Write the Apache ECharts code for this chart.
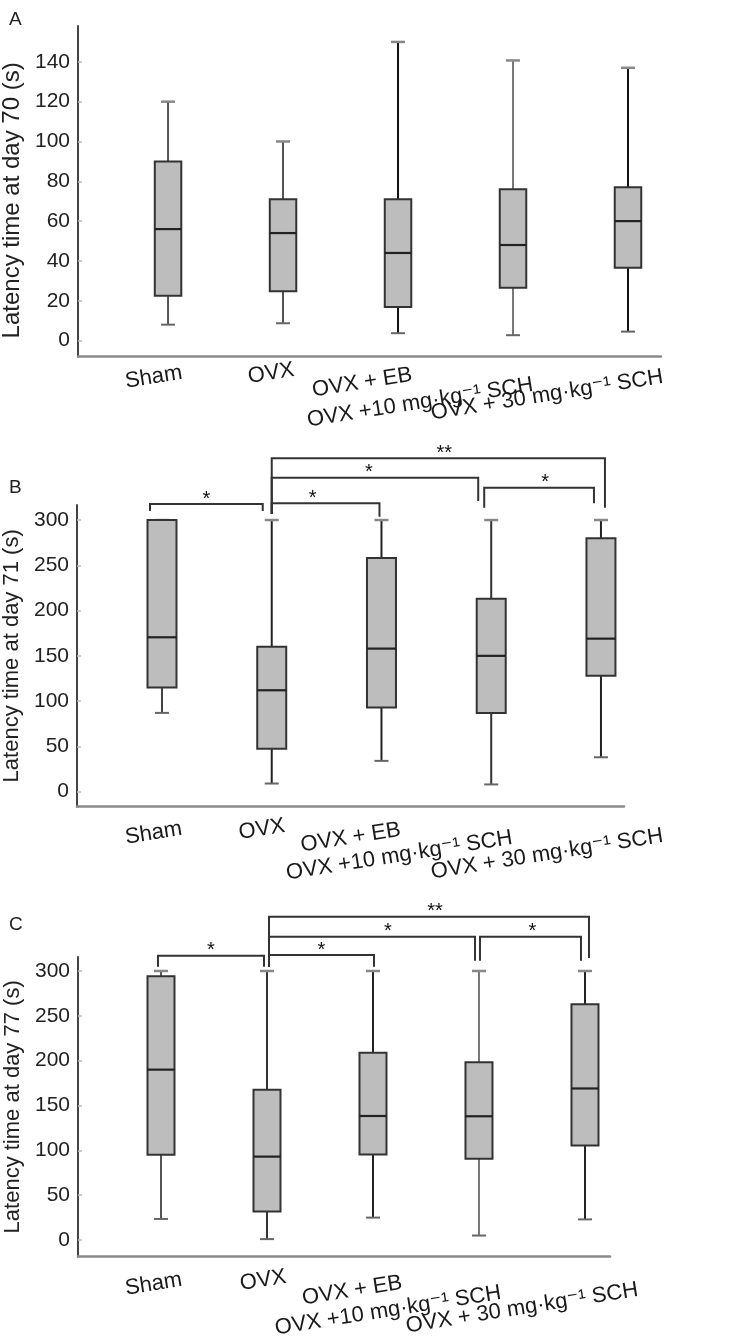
<!DOCTYPE html>
<html>
<head>
<meta charset="utf-8">
<script src="https://cdn.jsdelivr.net/npm/echarts@6/dist/echarts.min.js"></script>
<style>html,body{margin:0;padding:0;background:#fff}#c{width:730px;height:1344px}</style>
</head>
<body>
<div id="c"></div>
<script>
// ---------------- data ----------------
const categories = ['Sham', 'OVX', 'OVX + EB', 'OVX +10 mg\u00b7kg\u207b\u00b9 SCH', 'OVX + 30 mg\u00b7kg\u207b\u00b9 SCH'];
// each box: [min, Q1, median, Q3, max]
const day70 = [[8, 22.5, 56, 90, 120], [8.7, 24.8, 54, 71, 100], [3.7, 16.8, 44, 71, 150], [2.7, 26.5, 48, 76, 140.7], [4.5, 36.6, 60, 77, 137]];
const day71 = [[87, 115, 170.5, 300, 300], [9, 47.5, 112, 160, 300], [34, 93, 158, 258, 300], [8, 87, 150, 213, 300], [38, 128, 169, 280, 300]];
const day77 = [[23.5, 95, 190, 294, 300], [1, 31.7, 93, 167.7, 300], [25, 95.4, 138.3, 208.7, 300], [5, 90.6, 138, 198.3, 300], [23, 105.5, 169, 263, 300]];
const ticksA = [0, 20, 40, 60, 80, 100, 120, 140];
const ticksBC = [0, 50, 100, 150, 200, 250, 300];
// significance brackets: [groupA, groupB, barLevel, dropEndA, dropEndB, mark]
const sigB = [[0, 1, 317.7, 310, 310, '*'], [1, 2, 318.4, 306.6, 303.6, '*'], [1, 3, 346.7, 306.6, 321, '*'], [3, 4, 335.7, 313.5, 318.4, '*'], [1, 4, 368.1, 306.6, 313.5, '**']];
const sigC = [[0, 1, 317, 304.8, 304.8, '*'], [1, 2, 317.8, 304.8, 304.8, '*'], [1, 3, 338.2, 304.8, 311.5, '*'], [3, 4, 338.2, 311.5, 311.5, '*'], [1, 4, 360.5, 304.8, 314.5, '**']];

// ---------------- layout / style ----------------
const FONT = '"Liberation Sans", Arial, "DejaVu Sans", sans-serif';
const panels = [
  { key: 'A', letter: [4, 5], data: day70, ticks: ticksA, sig: [], sigNudge: [],
    title: 'Latency time at day 70 (s)', nameSize: 24, nameGap: 52, namePad: [0, 18, 0, 0],
    grid: [78, 26, 583, 330.7], x: [-0.783, 4.287], y: [-8.1, 158],
    boxW: 26.5, capW: 14,
    whisker: ['#555', '#555', '#111', '#777', '#111'],
    labDx: [14, 11, 14, 20, 35], labDy: [16, 13, 18, 28, 20] },
  { key: 'B', letter: [4, 473], data: day71, ticks: ticksBC, sig: sigB,
    sigNudge: [[-12, -9, 0], [0, -2, -13], [0, -13, -6], [-7, -7, 6], [0, 4, 6]],
    title: 'Latency time at day 71 (s)', nameSize: 22, nameGap: 54, namePad: [0, 0, 0, 0],
    grid: [77, 505, 547, 301.7], x: [-0.7745, 4.21], y: [-16.6, 316.6],
    boxW: 29, capW: 14,
    whisker: ['#444', '#222', '#222', '#333', '#222'],
    labDx: [20, 13, 19, 21, 62], labDy: [22, 19, 23, 31, 29] },
  { key: 'C', letter: [4, 910], data: day77, ticks: ticksBC, sig: sigC,
    sigNudge: [[-3, -3, 0], [2, 1, 0], [2, -4, 16], [1, -4, 2], [2, 4, 6]],
    title: 'Latency time at day 77 (s)', nameSize: 22, nameGap: 54, namePad: [0, 0, 0, 0],
    grid: [78, 957, 532, 299.7], x: [-0.783, 4.236], y: [-18.6, 315.6],
    boxW: 27, capW: 14,
    whisker: ['#555', '#333', '#222', '#777', '#222'],
    labDx: [21, 19, 29, 22, 53], labDy: [23, 20, 26, 36, 33] }
];

const grids = [], xAxes = [], yAxes = [], series = [], titles = [];

panels.forEach((p, k) => {
  grids.push({ left: p.grid[0], top: p.grid[1], width: p.grid[2], height: p.grid[3], containLabel: false, outerBoundsMode: 'none' });
  titles.push({ text: p.key, left: p.letter[0], top: p.letter[1],
    textStyle: { fontSize: 19, fontWeight: 'normal', color: '#222', fontFamily: FONT } });
  xAxes.push({ gridIndex: k, type: 'value', min: p.x[0], max: p.x[1],
    axisLine: { show: true, onZero: false, lineStyle: { color: '#8a8a8a', width: 2.5 } },
    axisTick: { show: false }, axisLabel: { show: false }, splitLine: { show: false } });
  yAxes.push({ gridIndex: k, type: 'value', min: p.y[0], max: p.y[1],
    name: p.title, nameLocation: 'middle', nameGap: p.nameGap, nameRotate: 90,
    nameTextStyle: { fontSize: p.nameSize, color: '#222', fontFamily: FONT, padding: p.namePad },
    axisLine: { show: true, onZero: false, lineStyle: { color: '#444', width: 2 } },
    axisTick: { show: true, inside: true, length: 4, customValues: p.ticks, lineStyle: { color: '#bbb', width: 1.5 } },
    axisLabel: { show: true, customValues: p.ticks, fontSize: 21, color: '#222', fontFamily: FONT, margin: 8 },
    splitLine: { show: false } });

  // boxes
  series.push({
    type: 'custom', xAxisIndex: k, yAxisIndex: k, clip: false, silent: true, z: 3,
    data: p.data.map((d, i) => [i].concat(d)),
    encode: { x: 0, y: [1, 2, 3, 4, 5] },
    renderItem: function (params, api) {
      const i = api.value(0);
      const lo = api.coord([i, api.value(1)]);
      const q1 = api.coord([i, api.value(2)])[1];
      const md = api.coord([i, api.value(3)])[1];
      const q3 = api.coord([i, api.value(4)])[1];
      const hi = api.coord([i, api.value(5)])[1];
      const x = lo[0];
      const wc = p.whisker[i];
      const bw = p.boxW, cw = p.capW;
      const ws = { stroke: wc, lineWidth: 2 };
      return { type: 'group', children: [
        { type: 'line', shape: { x1: x, y1: lo[1], x2: x, y2: hi }, style: ws },
        { type: 'line', shape: { x1: x - cw / 2, y1: hi, x2: x + cw / 2, y2: hi }, style: { stroke: '#888', lineWidth: 2.5 } },
        { type: 'line', shape: { x1: x - cw / 2, y1: lo[1], x2: x + cw / 2, y2: lo[1] }, style: { stroke: '#666', lineWidth: 2 } },
        { type: 'rect', shape: { x: x - bw / 2, y: q3, width: bw, height: q1 - q3 }, style: { fill: '#bdbdbd', stroke: '#333', lineWidth: 2 } },
        { type: 'line', shape: { x1: x - bw / 2, y1: md, x2: x + bw / 2, y2: md }, style: { stroke: '#222', lineWidth: 2.2 } }
      ] };
    }
  });

  // category labels
  series.push({
    type: 'custom', xAxisIndex: k, yAxisIndex: k, clip: false, silent: true, z: 4,
    data: categories.map((c, i) => [i, p.y[0]]),
    encode: { x: 0, y: 1 },
    renderItem: function (params, api) {
      const i = params.dataIndex;
      const pt = api.coord([api.value(0), api.value(1)]);
      return { type: 'text', x: pt[0] + p.labDx[i], y: pt[1] + p.labDy[i], rotation: 9 * Math.PI / 180,
        style: { text: categories[i], align: 'right', verticalAlign: 'middle', font: '22px ' + FONT, fill: '#1a1a1a' } };
    }
  });

  // significance brackets
  if (p.sig.length) {
    series.push({
      type: 'custom', xAxisIndex: k, yAxisIndex: k, clip: false, silent: true, z: 5,
      data: p.sig.map(s => s.slice(0, 5)),
      encode: { x: [0, 1], y: [2, 3, 4] },
      renderItem: function (params, api) {
        const j = params.dataIndex;
        const nd = p.sigNudge[j];
        const a = api.value(0), b = api.value(1), lev = api.value(2);
        const pa = api.coord([a, lev]), pb = api.coord([b, lev]);
        const ya = api.coord([a, api.value(3)])[1];
        const yb = api.coord([b, api.value(4)])[1];
        const xa = pa[0] + nd[0], xb = pb[0] + nd[1];
        return { type: 'group', children: [
          { type: 'polyline', shape: { points: [[xa, ya], [xa, pa[1]], [xb, pb[1]], [xb, yb]] },
            style: { stroke: '#333', lineWidth: 2, fill: null } },
          { type: 'text', x: (xa + xb) / 2 + nd[2], y: pa[1] - 5,
            style: { text: p.sig[j][5], align: 'center', verticalAlign: 'middle', font: '20px ' + FONT, fill: '#111' } }
        ] };
      }
    });
  }
});

const chart = echarts.init(document.getElementById('c'), null, { renderer: 'canvas' });
chart.setOption({
  animation: false,
  backgroundColor: '#fff',
  title: titles,
  grid: grids,
  xAxis: xAxes,
  yAxis: yAxes,
  series: series
});
</script>
</body>
</html>
